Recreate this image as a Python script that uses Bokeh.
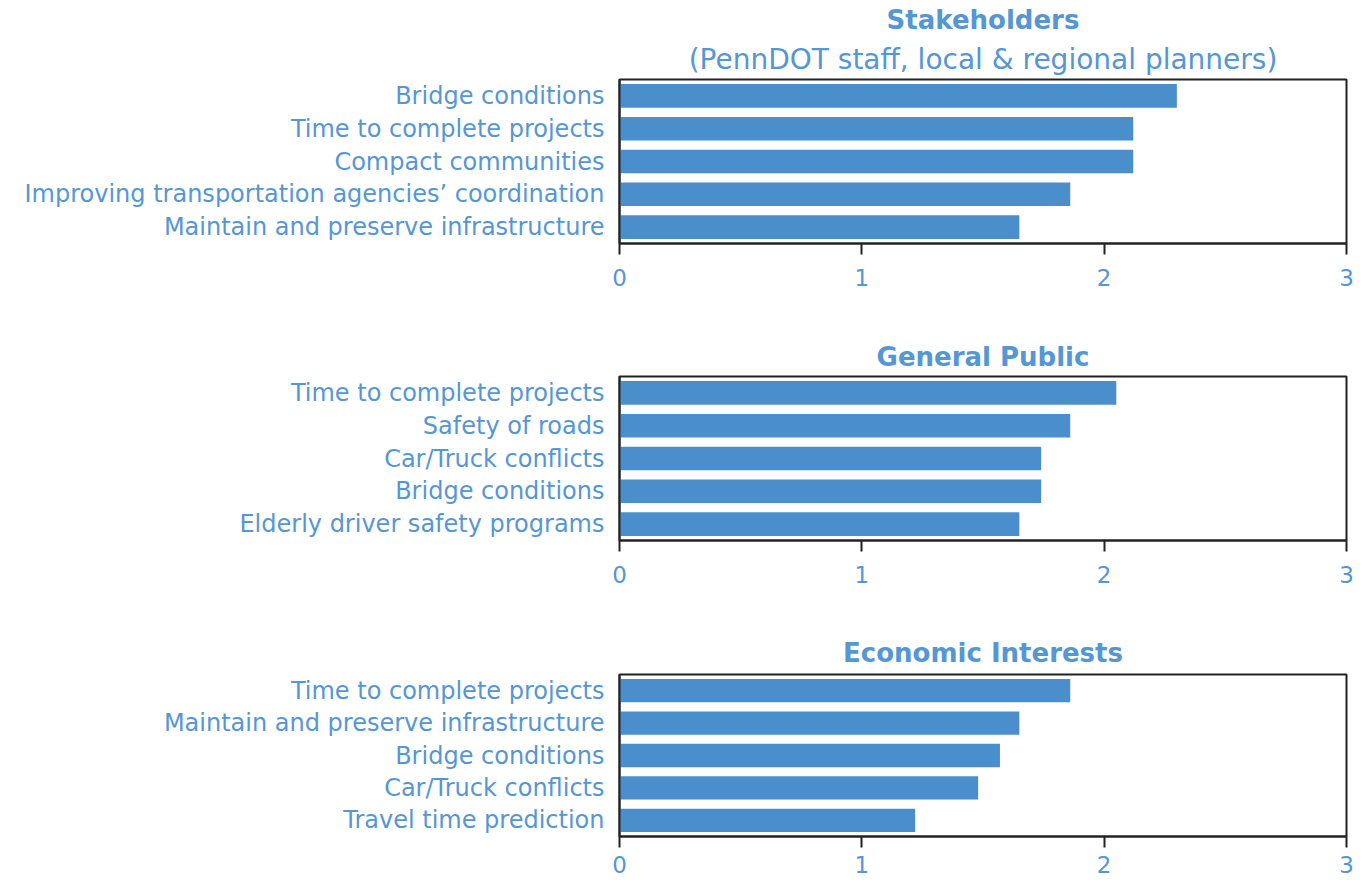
from bokeh.plotting import figure
from bokeh.models import Title, FixedTicker, ColumnDataSource
from bokeh.layouts import column
from bokeh.embed import file_html
from bokeh.resources import INLINE

# ---- data ----
stake_cats = ["Bridge conditions", "Time to complete projects", "Compact communities",
              "Improving transportation agencies\u2019 coordination",
              "Maintain and preserve infrastructure"]
stake_vals = [2.30, 2.12, 2.12, 1.86, 1.65]

public_cats = ["Time to complete projects", "Safety of roads", "Car/Truck conflicts",
               "Bridge conditions", "Elderly driver safety programs"]
public_vals = [2.05, 1.86, 1.74, 1.74, 1.65]

econ_cats = ["Time to complete projects", "Maintain and preserve infrastructure",
             "Bridge conditions", "Car/Truck conflicts", "Travel time prediction"]
econ_vals = [1.86, 1.65, 1.57, 1.48, 1.22]

x_ticks = [0, 1, 2, 3]

BAR = "#4A8FCC"
TXT = "#5596D4"
LINE = "#222222"
FONT = "DejaVu Sans"


def panel(cats, vals, title, subtitle, height, border_top, border_bottom,
          title_standoff, tick_standoff):
    p = figure(y_range=list(reversed(cats)), x_range=(0, 3),
               width=1356, height=height, output_backend="svg",
               toolbar_location=None, min_border_left=619, min_border_right=10,
               min_border_top=border_top, min_border_bottom=border_bottom)
    p.title.visible = False
    src = ColumnDataSource(dict(cat=cats, val=vals))
    p.hbar(y="cat", right="val", left=0, height=0.72, source=src,
           fill_color=BAR, line_color=None)
    p.y_range.range_padding = 0
    p.xgrid.visible = False
    p.ygrid.visible = False
    p.outline_line_color = LINE
    p.outline_line_width = 2
    p.outline_line_alpha = 1

    p.xaxis.ticker = FixedTicker(ticks=x_ticks)
    p.xaxis.minor_tick_line_color = None
    p.xaxis.major_tick_in = 0
    p.xaxis.major_tick_out = 11
    p.xaxis.major_tick_line_width = 2
    p.xaxis.major_tick_line_color = LINE
    p.xaxis.axis_line_color = LINE
    p.xaxis.axis_line_width = 2
    p.xaxis.major_label_text_color = TXT
    p.xaxis.major_label_text_font = FONT
    p.xaxis.major_label_text_font_size = "23px"
    p.xaxis.major_label_standoff = tick_standoff

    p.yaxis.major_tick_line_color = None
    p.yaxis.minor_tick_line_color = None
    p.yaxis.axis_line_color = LINE
    p.yaxis.axis_line_width = 2
    p.yaxis.major_label_text_color = TXT
    p.yaxis.major_label_text_font = FONT
    p.yaxis.major_label_text_font_size = "24px"
    p.yaxis.major_label_standoff = 9

    if subtitle:
        p.add_layout(Title(text=subtitle, align="center", text_color=TXT,
                           text_font=FONT, text_font_size="28px",
                           text_font_style="normal", standoff=7), "above")
    p.add_layout(Title(text=title, align="center", text_color=TXT,
                       text_font=FONT, text_font_size="26px",
                       text_font_style="bold", standoff=title_standoff), "above")
    return p


p1 = panel(stake_cats, stake_vals, "Stakeholders",
           "(PennDOT staff, local & regional planners)", 299, 78, 56, 5, 14)
p2 = panel(public_cats, public_vals, "General Public", None, 297, 77, 56, 9, 14)
p3 = panel(econ_cats, econ_vals, "Economic Interests", None, 284, 78, 44, 14, 8)

layout = column(p1, p2, p3, spacing=0)

open("out.html", "w").write(file_html(layout, INLINE))
